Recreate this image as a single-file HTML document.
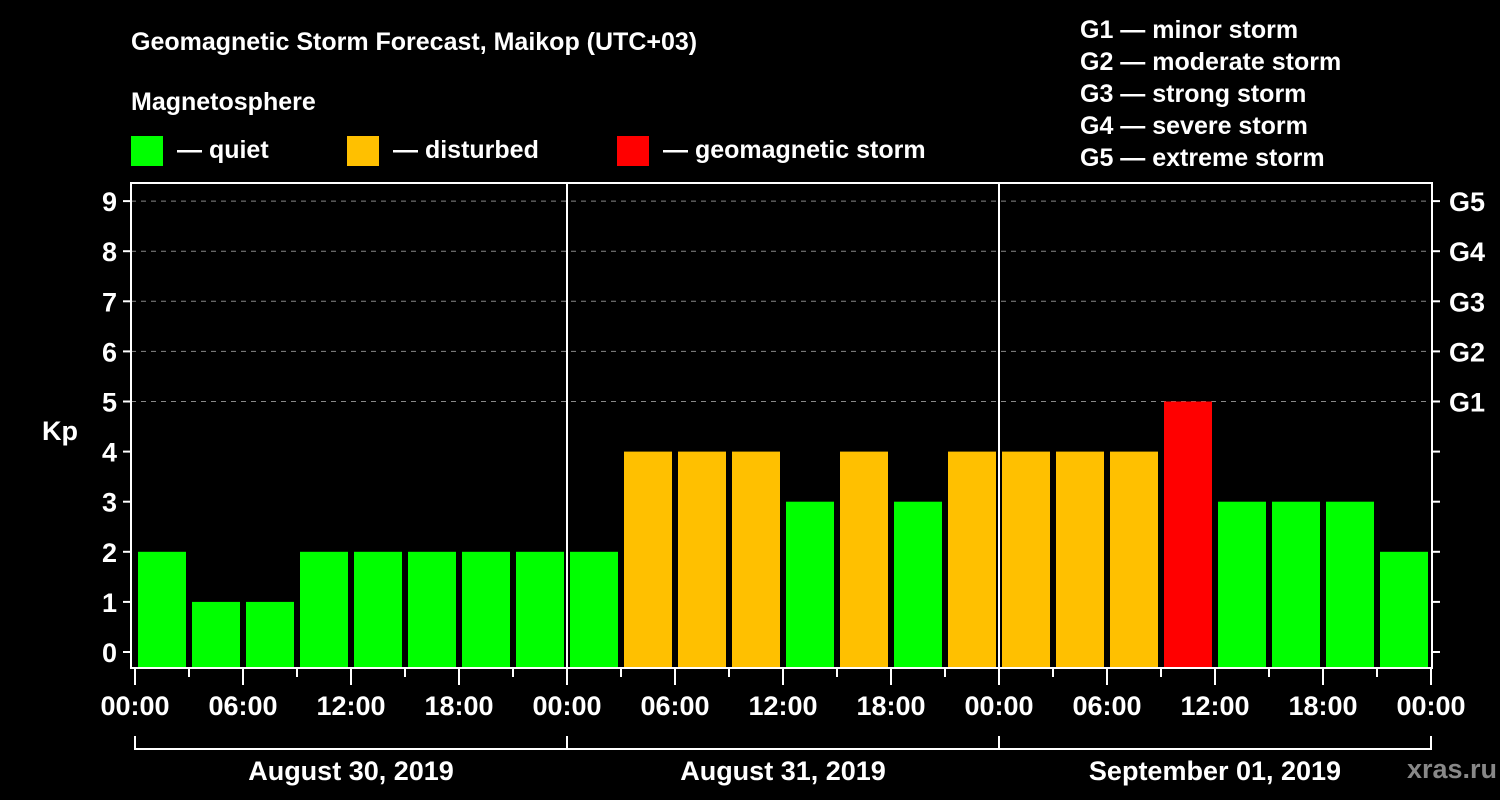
<!DOCTYPE html>
<html><head><meta charset="utf-8"><style>
html,body{margin:0;padding:0;background:#000;}
svg{display:block;font-family:"Liberation Sans",Arial,sans-serif;font-weight:bold;}
</style></head><body>
<svg id="chart" width="1500" height="800" viewBox="0 0 1500 800">
<rect width="1500" height="800" fill="#000"/>
<text x="131" y="50" fill="#fff" font-size="25">Geomagnetic Storm Forecast, Maikop (UTC+03)</text>
<text x="131" y="110" fill="#fff" font-size="25">Magnetosphere</text>
<g><rect x="131" y="136" width="32" height="30" fill="#00ff00"/><text x="177" y="158" fill="#fff" font-size="25">— quiet</text></g>
<g><rect x="347" y="136" width="32" height="30" fill="#ffc000"/><text x="393" y="158" fill="#fff" font-size="25">— disturbed</text></g>
<g><rect x="617" y="136" width="32" height="30" fill="#ff0000"/><text x="663" y="158" fill="#fff" font-size="25">— geomagnetic storm</text></g>
<g fill="#fff" font-size="25">
<text x="1080" y="38">G1 — minor storm</text>
<text x="1080" y="70">G2 — moderate storm</text>
<text x="1080" y="102">G3 — strong storm</text>
<text x="1080" y="134">G4 — severe storm</text>
<text x="1080" y="166">G5 — extreme storm</text>
</g>
<text x="42" y="440" fill="#fff" font-size="27">Kp</text>
<text x="1497" y="778" fill="#888" font-size="27" text-anchor="end">xras.ru</text>
<g id="grid"></g>
<g id="bars"></g>
<g id="axes"></g>
</svg>
<script>
const kpValues=[2,1,1,2,2,2,2,2, 2,4,4,4,3,4,3,4, 4,4,4,5,3,3,3,2];
const yTicks=[0,1,2,3,4,5,6,7,8,9];
const gLabels=["G1","G2","G3","G4","G5"];
const gLevels=[5,6,7,8,9];
const timeLabels=["00:00","06:00","12:00","18:00"];
const dayLabels=["August 30, 2019","August 31, 2019","September 01, 2019"];

const NS="http://www.w3.org/2000/svg";
const X0=135, PXH=18, Y0=652, PXK=50.1, TOP=183, BOT=668, LEFT=131, RIGHT=1432;
const x=h=>X0+h*PXH;
const y=v=>Y0-v*PXK;
function mk(tag,attrs,parent){const e=document.createElementNS(NS,tag);for(const k in attrs)e.setAttribute(k,attrs[k]);document.getElementById(parent).appendChild(e);return e;}
function color(v){return v>=5?"#ff0000":v>=4?"#ffc000":"#00ff00";}

// grid dashed lines
gLevels.forEach(v=>{
 const l=mk("line",{x1:LEFT,x2:RIGHT,y1:y(v),y2:y(v),stroke:"#888","stroke-width":1,"stroke-dasharray":"5,5"},"grid");
 
 
});
// day separators
for(let d=1;d<dayLabels.length;d++){
 const l=mk("line",{x1:x(24*d),x2:x(24*d),y1:TOP,y2:BOT,stroke:"#fff","stroke-width":2},"grid");
 
 
}
// bars
kpValues.forEach((v,i)=>{
 const b=mk("rect",{x:x(3*i)+3,width:x(3*i+3)-x(3*i)-6,y:y(v),height:667-y(v),fill:color(v)},"bars");
 
 
});
// frame
const f=mk("rect",{x:LEFT,y:TOP,width:RIGHT-LEFT,height:BOT-TOP,fill:"none",stroke:"#fff","stroke-width":2},"axes");


// y ticks
yTicks.forEach(v=>{
 mk("line",{x1:LEFT-8,x2:LEFT,y1:y(v),y2:y(v),stroke:"#fff","stroke-width":2},"axes");
 mk("line",{x1:RIGHT,x2:RIGHT+8,y1:y(v),y2:y(v),stroke:"#fff","stroke-width":2},"axes");
 const t=mk("text",{x:LEFT-14,y:y(v)+10,fill:"#fff","font-size":27,"text-anchor":"end"},"axes");
 t.textContent=v;
 
 
});
gLabels.forEach((g,i)=>{
 const t=mk("text",{x:RIGHT+17,y:y(gLevels[i])+10,fill:"#fff","font-size":27},"axes");
 t.textContent=g;
 
 
});
// x ticks
const nDays=dayLabels.length;
for(let h=0;h<=24*nDays;h+=3){
 const big=h%6===0;
 mk("line",{x1:x(h),x2:x(h),y1:BOT,y2:big?685:677,stroke:"#fff","stroke-width":2},"axes");
 if(big){
  const t=mk("text",{x:x(h),y:715,fill:"#fff","font-size":27,"text-anchor":"middle"},"axes");
  t.textContent=timeLabels[(h/6)%4];
  
  
 }
}
// day bracket
mk("line",{x1:x(0),x2:x(24*nDays),y1:749,y2:749,stroke:"#fff","stroke-width":2},"axes");
for(let d=0;d<=nDays;d++) mk("line",{x1:x(24*d),x2:x(24*d),y1:736,y2:750,stroke:"#fff","stroke-width":2},"axes");
dayLabels.forEach((s,d)=>{
 const t=mk("text",{x:x(24*d+12),y:780,fill:"#fff","font-size":27,"text-anchor":"middle"},"axes");
 t.textContent=s;
 
 
});
</script>
</body></html>
